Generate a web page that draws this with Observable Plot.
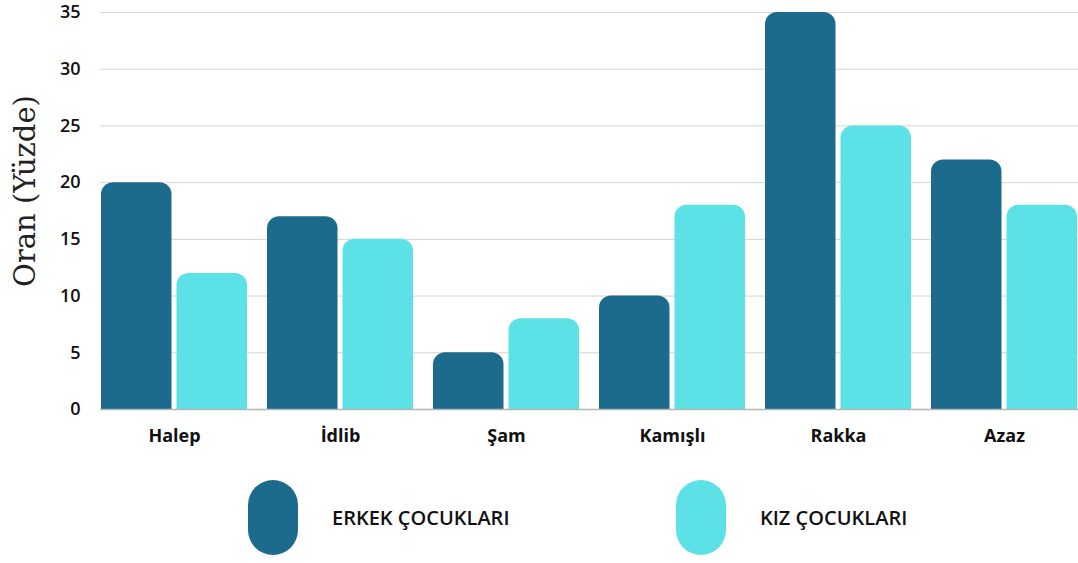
<!DOCTYPE html>
<html><head><meta charset="utf-8">
<script src="https://cdn.jsdelivr.net/npm/d3@7"></script>
<script src="https://cdn.jsdelivr.net/npm/@observablehq/plot@0.6"></script>
<style>
body{margin:0;background:#fff;overflow:hidden;width:1078px;height:563px}
#chart{position:relative;width:1078px;height:465px}
#legend{position:relative;width:1078px;height:98px;font-family:"Open Sans",sans-serif}
.sw{position:absolute;top:15px;width:50px;height:75px;border-radius:25px}
.lt{position:absolute;top:40px;height:26px;line-height:26px;font-size:20px;font-weight:600;color:#111}
</style>
</head><body>
<div id="chart"></div>
<div id="legend"></div>
<script>
const cities = ["Halep","İdlib","Şam","Kamışlı","Rakka","Azaz"];
const erkek = [20,17,5,10,35,22];
const kiz = [12,15,8,18,25,18];
const seriesNames = ["ERKEK ÇOCUKLARI","KIZ ÇOCUKLARI"];
const colors = ["#1c6a8c","#5ce1e6"];
const yTicks = [0,5,10,15,20,25,30,35];
const yLabel = "Oran (Yüzde)";

const erkekData = cities.map((c,i)=>({city:c, value:erkek[i]}));
const kizData = cities.map((c,i)=>({city:c, value:kiz[i]}));

const plot = Plot.plot({
  width:1078, height:465,
  marginLeft:100, marginRight:0, marginTop:12, marginBottom:56,
  style:{fontFamily:"'Open Sans', sans-serif", fontSize:"18px", color:"#111", background:"#fff", overflow:"visible"},
  x:{domain:cities, paddingInner:0.12, paddingOuter:0},
  y:{domain:[0,35]},
  marks:[
    Plot.gridY(yTicks, {stroke:"#d4d4d4", strokeOpacity:1, strokeWidth:1}),
    Plot.barY(erkekData, {x:"city", y:"value", fill:colors[0], insetRight:75.5, ry1:12}),
    Plot.barY(kizData, {x:"city", y:"value", fill:colors[1], insetLeft:75.5, ry1:12}),
    Plot.ruleY([0], {stroke:"#b5b5b5", strokeWidth:1.5}),
    Plot.axisY(yTicks, {tickSize:0, tickPadding:20, label:null, fontSize:18, fontWeight:600, fill:"#111"}),
    Plot.axisX(cities, {tickSize:0, tickPadding:20, label:null, fontSize:18, fontWeight:700, fill:"#111"}),
    Plot.text([yLabel], {frameAnchor:"left", text:d=>d, rotate:-90, textAnchor:"middle", dx:-75, dy:-20, fontFamily:"'DejaVu Serif', serif", fontSize:29, fill:"#222"})
  ]
});
document.getElementById("chart").appendChild(plot);

const legend = document.getElementById("legend");
const swLeft = [248, 676];
const txtLeft = [332, 760];
seriesNames.forEach((s,i)=>{
  const sw = document.createElement("div");
  sw.className="sw"; sw.style.left=swLeft[i]+"px"; sw.style.background=colors[i];
  legend.appendChild(sw);
  const t = document.createElement("div");
  t.className="lt"; t.style.left=txtLeft[i]+"px"; t.textContent=s;
  legend.appendChild(t);
});
</script>
</body></html>
